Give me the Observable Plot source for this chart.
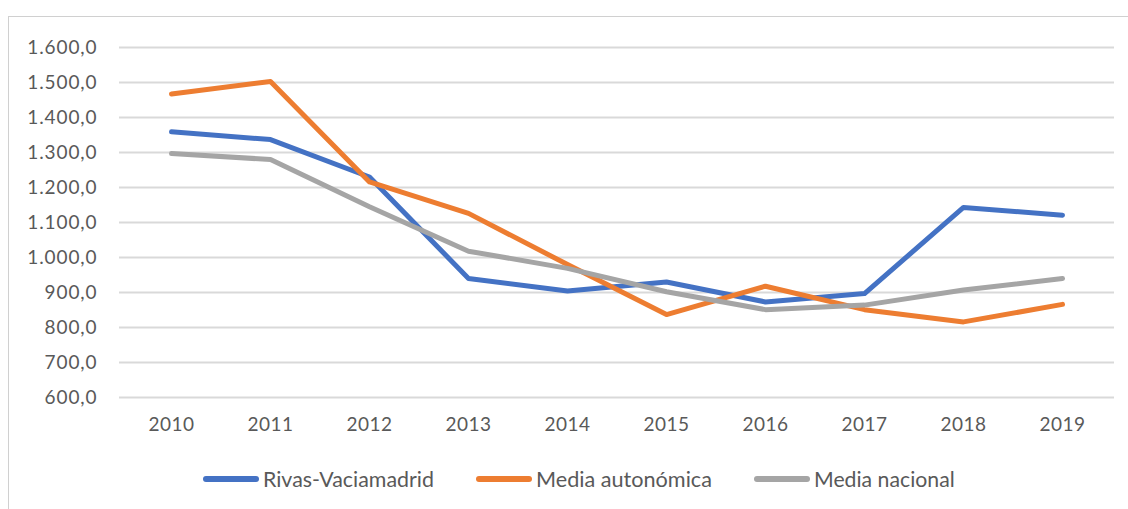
<!DOCTYPE html>
<html>
<head>
<meta charset="utf-8">
<script src="https://cdn.jsdelivr.net/npm/d3@7"></script>
<script src="https://cdn.jsdelivr.net/npm/@observablehq/plot@0.6"></script>
<style>
  html, body { margin: 0; padding: 0; background: #fff; }
  body { position: relative; width: 1128px; height: 509px; overflow: hidden; font-family: Lato, "Noto Sans", sans-serif; }
  #frame { position: absolute; left: 8px; top: 16px; width: 1200px; height: 600px; border-left: 1.5px solid #d0d0d0; border-top: 1.5px solid #d0d0d0; box-sizing: border-box; }
  #chart { position: absolute; left: 0; top: 0; }
  #chart svg g[aria-label="y-axis tick label"] text { letter-spacing: 0.9px; }
  #chart svg g[aria-label="x-axis tick label"] text { letter-spacing: 0.5px; }
  #legend { position: absolute; left: 203px; top: 479px; transform: translateY(-50%); display: flex; align-items: center; color: #595959; font-size: 22px; line-height: 1; }
  .item { display: flex; align-items: center; margin-right: 42px; }
  .sw { width: 56px; height: 6px; border-radius: 3px; margin-right: 4px; }
  .lab { display: inline-block; transform-origin: left center; white-space: nowrap; }
</style>
</head>
<body>
<div id="frame"></div>
<div id="chart"></div>
<div id="legend"></div>
<script>
const years = [2010, 2011, 2012, 2013, 2014, 2015, 2016, 2017, 2018, 2019];
const rivas = [1359, 1337, 1230, 940, 904, 930, 873, 897, 1143, 1121];
const autonomica = [1467, 1503, 1216, 1126, 980, 837, 918, 851, 816, 866];
const nacional = [1297, 1280, 1145, 1018, 969, 902, 851, 864, 907, 940];
const seriesNames = ["Rivas-Vaciamadrid", "Media autonómica", "Media nacional"];
const seriesColors = ["#4472C4", "#ED7D31", "#A5A5A5"];
const yTicks = [600, 700, 800, 900, 1000, 1100, 1200, 1300, 1400, 1500, 1600];

const seriesValues = [rivas, autonomica, nacional];
const data = [];
seriesNames.forEach((name, i) => {
  years.forEach((yr, j) => data.push({serie: name, year: yr, value: seriesValues[i][j]}));
});

const fmt = d3.formatLocale({decimal: ",", thousands: ".", grouping: [3], currency: ["", " €"]}).format(",.1f");

const chart = Plot.plot({
  width: 1128,
  height: 450,
  marginLeft: 119,
  marginRight: 14,
  marginTop: 47,
  marginBottom: 53,
  style: {fontFamily: "Lato, 'Noto Sans', sans-serif", fontSize: "19px", color: "#595959", background: "transparent", overflow: "visible"},
  x: {type: "point", domain: years, padding: 0.5, label: null, tickSize: 0, tickPadding: 20, tickFormat: d => String(d)},
  y: {domain: [600, 1600], ticks: yTicks, tickFormat: fmt, label: null, tickSize: 0, tickPadding: 22},
  color: {domain: seriesNames, range: seriesColors},
  marks: [
    Plot.gridY(yTicks, {stroke: "#d9d9d9", strokeOpacity: 1, strokeWidth: 2}),
    ...seriesNames.map((name, i) => Plot.line(data.filter(d => d.serie === name), {
      x: "year", y: "value", stroke: seriesColors[i], strokeWidth: 5,
      strokeLinecap: "round", strokeLinejoin: "round"
    }))
  ]
});
document.getElementById("chart").appendChild(chart);

const legend = document.getElementById("legend");
const targetWidths = [171, 176, 141];
seriesNames.forEach((name, i) => {
  const item = document.createElement("div");
  item.className = "item";
  const sw = document.createElement("span");
  sw.className = "sw";
  sw.style.background = seriesColors[i];
  const lab = document.createElement("span");
  lab.className = "lab";
  lab.textContent = name;
  item.appendChild(sw);
  item.appendChild(lab);
  legend.appendChild(item);
  const w = lab.offsetWidth;
  const s = targetWidths[i] / w;
  lab.style.transform = `scaleX(${s})`;
  lab.style.marginRight = `${-(w - targetWidths[i])}px`;
});
</script>
</body>
</html>
